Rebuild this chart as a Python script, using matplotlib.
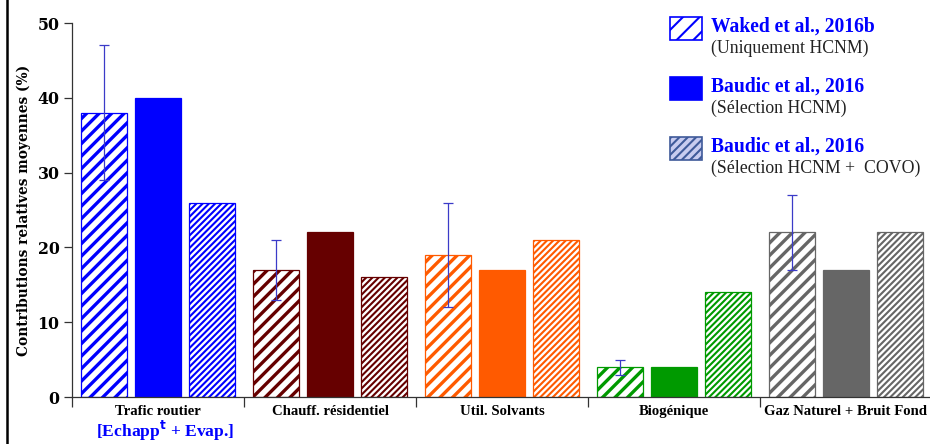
import matplotlib
matplotlib.use("Agg")
import matplotlib.pyplot as plt
from matplotlib.patches import Rectangle
from matplotlib.lines import Line2D
import numpy as np

plt.rcParams['font.family'] = ['DejaVu Serif']

categories = ["Trafic routier", "Chauff. résidentiel", "Util. Solvants",
              "Biogénique", "Gaz Naturel + Bruit Fond"]
colors = ["#0000ff", "#660000", "#ff5a00", "#009a00", "#666666"]
waked = [38, 17, 19, 4, 22]
waked_lo = [29, 13, 12, 3, 17]
waked_hi = [47, 21, 26, 5, 27]
baudic_hcnm = [40, 22, 17, 4, 17]
baudic_covo = [26, 16, 21, 14, 22]
yticks = [0, 10, 20, 30, 40, 50]

W, H = 930, 444
fig = plt.figure(figsize=(W / 150, H / 150), dpi=150)
ax = fig.add_axes([72 / W, 47 / H, 860 / W, 374 / H])


def fx(px):
    return px / W


def fy(py):
    return 1 - py / H


x = np.arange(len(categories))
bw = 0.267
off = 0.314

# series 1: wide hatch
with plt.rc_context({'hatch.linewidth': 1.6}):
    b1 = ax.bar(x - off, waked, bw, color='white', edgecolor=colors, lw=0.6)
    for p in b1:
        p.set_hatch('////')
        if hasattr(p, 'set_hatch_linewidth'):
            p.set_hatch_linewidth(1.6)
b2 = ax.bar(x, baudic_hcnm, bw, color=colors, edgecolor=colors, lw=0.6)
with plt.rc_context({'hatch.linewidth': 1.0}):
    b3 = ax.bar(x + off, baudic_covo, bw, color='white', edgecolor=colors, lw=0.6)
    for p in b3:
        p.set_hatch('////////')
        if hasattr(p, 'set_hatch_linewidth'):
            p.set_hatch_linewidth(1.0)

yerr = [np.array(waked) - np.array(waked_lo), np.array(waked_hi) - np.array(waked)]
ax.errorbar(x - off, waked, yerr=yerr, fmt='none', ecolor='#3b3bc8',
            elinewidth=0.6, capsize=2.5, capthick=0.6)

ax.set_xlim(-0.5, 4.5)
ax.set_ylim(0, 50)
ax.set_yticks(yticks)
ax.set_yticklabels([str(v) for v in yticks], fontweight='bold', fontsize=7.6)
ax.set_xticks(x)
ax.set_xticklabels(categories, fontweight='bold', fontsize=7.1,
                   family='Liberation Serif')
ax.set_xticks(np.arange(-0.5, 4.5, 1.0), minor=True)
ax.tick_params(axis='x', which='major', length=0, pad=4)
ax.tick_params(axis='x', which='minor', length=5, width=0.6, color='#333333')
ax.tick_params(axis='y', length=4, width=0.6, color='#333333', pad=2)
for s in ['top', 'right']:
    ax.spines[s].set_visible(False)
for s in ['left', 'bottom']:
    ax.spines[s].set_color('#333333')
    ax.spines[s].set_linewidth(0.6)

ax.set_ylabel("Contributions relatives moyennes (%)", fontweight='bold',
              fontsize=6.6, labelpad=3)

fig.text(fx(165), fy(431), "[Echapp$^{\\mathbf{t}}$ + Evap.]", color='#0000ff',
         fontweight='bold', fontsize=8.4, ha='center', va='center',
         family='Liberation Serif')

# left frame line
fig.add_artist(Line2D([fx(7), fx(7)], [0, 1], color='black', lw=1.2))

# legend
entries = [
    ("Waked et al., 2016b", "(Uniquement HCNM)", 17, 'hatch'),
    ("Baudic et al., 2016", "(Sélection HCNM)", 77, 'solid'),
    ("Baudic et al., 2016", "(Sélection HCNM +  COVO)", 137, 'fine'),
]
for title, sub, top, kind in entries:
    rx, ry, rw, rh = fx(670), fy(top + 23), 32 / W, 23 / H
    if kind == 'hatch':
        r = Rectangle((rx, ry), rw, rh, transform=fig.transFigure,
                      facecolor='white', edgecolor='#0000ff', hatch='///', lw=0.8)
    elif kind == 'solid':
        r = Rectangle((rx, ry), rw, rh, transform=fig.transFigure,
                      facecolor='#0000ff', edgecolor='#0000ff', lw=0.8)
    else:
        r = Rectangle((rx, ry), rw, rh, transform=fig.transFigure,
                      facecolor='#c8ccf0', edgecolor='#3f5a9a', hatch='//////', lw=0.8)
    fig.add_artist(r)
    fig.text(fx(711), fy(top + 10), title, color='#0000ff', fontweight='bold',
             fontsize=9.4, va='center', ha='left', family='Liberation Serif')
    fig.text(fx(711), fy(top + 31), sub, color='#222222',
             fontsize=8.5, va='center', ha='left', family='Liberation Serif')

fig.savefig("out.png", dpi=150)
